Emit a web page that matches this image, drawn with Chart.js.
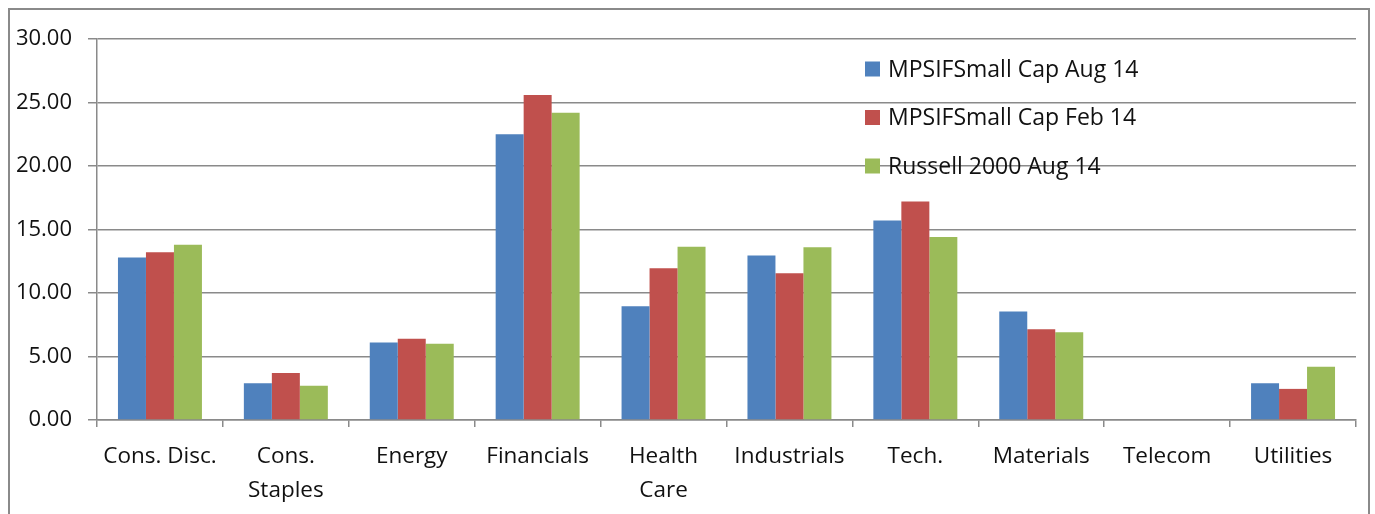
<!DOCTYPE html>
<html>
<head>
<meta charset="utf-8">
<script src="https://cdn.jsdelivr.net/npm/chart.js@4.4.0/dist/chart.umd.min.js"></script>
<style>
  body { margin: 0; overflow: hidden; background: #fff; }
  #frame { position: absolute; left: 8px; top: 8px; width: 1358px; height: 530px; border: 2px solid #8a8a8a; }
  #wrap { position: absolute; left: 0; top: 0; width: 1375px; height: 514px; }
</style>
</head>
<body>
<div id="frame"></div>
<div id="wrap"><canvas id="chart" width="1375" height="514"></canvas></div>
<script>
var categories = ["Cons. Disc.", ["Cons.", "Staples"], "Energy", "Financials", ["Health", "Care"],
                  "Industrials", "Tech.", "Materials", "Telecom", "Utilities"];
var seriesNames = ["MPSIFSmall Cap Aug 14", "MPSIFSmall Cap Feb 14", "Russell 2000 Aug 14"];
var aug14 = [12.8, 2.9, 6.1, 22.5, 8.95, 12.95, 15.7, 8.55, 0, 2.9];
var feb14 = [13.2, 3.7, 6.4, 25.6, 11.95, 11.55, 17.2, 7.15, 0, 2.45];
var russell = [13.8, 2.7, 6.0, 24.2, 13.65, 13.6, 14.4, 6.9, 0, 4.2];
var yTicks = [0, 5, 10, 15, 20, 25, 30];

var colors = ["#4f81bd", "#c0504d", "#9bbb59"];
var fontFam = "'Open Sans', 'Noto Sans', sans-serif";

// legend drawn by hand, Excel puts it inside the plot area on the right
var legendPlugin = {
    id: "boxLegend",
    afterDraw: function(chart) {
        var ctx = chart.ctx;
        ctx.save();
        ctx.font = "23px " + fontFam;
        ctx.textBaseline = "middle";
        chart.data.datasets.forEach(function(ds, i) {
            var y = 69 + i * 48.5;
            ctx.fillStyle = ds.backgroundColor;
            ctx.fillRect(865, y - 7.5, 15, 15);
            ctx.fillStyle = "#111";
            ctx.fillText(ds.label, 888, y + 1);
        });
        ctx.restore();
    }
};

var data = {
    labels: categories,
    datasets: [
        { label: seriesNames[0], data: aug14, backgroundColor: colors[0] },
        { label: seriesNames[1], data: feb14, backgroundColor: colors[1] },
        { label: seriesNames[2], data: russell, backgroundColor: colors[2] }
    ]
};

var config = {
    type: "bar",
    data: data,
    options: {
        responsive: false,
        animation: false,
        layout: { padding: { left: 0, right: 19, top: 39, bottom: 0 } },
        datasets: {
            bar: { categoryPercentage: 0.667, barPercentage: 1, borderWidth: 0 }
        },
        plugins: {
            legend: { display: false },
            tooltip: { enabled: false }
        },
        scales: {
            x: {
                grid: { offset: true, drawOnChartArea: false, drawTicks: true, tickLength: 7, color: "#8a8a8a", lineWidth: 1.5 },
                border: { color: "#8a8a8a", width: 1.5 },
                ticks: {
                    color: "#111",
                    font: { family: fontFam, size: 22.5, lineHeight: 1.5 },
                    padding: 13,
                    maxRotation: 0,
                    autoSkip: false
                },
                afterFit: function(scale) { scale.height = 94; }
            },
            y: {
                min: 0,
                max: 30,
                afterBuildTicks: function(scale) {
                    scale.ticks = yTicks.map(function(v) { return { value: v }; });
                },
                grid: { color: "#8a8a8a", lineWidth: 1.5, tickLength: 9 },
                border: { color: "#8a8a8a", width: 1.5 },
                ticks: {
                    color: "#111",
                    font: { family: fontFam, size: 22 },
                    padding: 16,
                    callback: function(v) { return v.toFixed(2); }
                },
                afterFit: function(scale) { scale.width = 97; }
            }
        }
    },
    plugins: [legendPlugin]
};

var myChart = new Chart(document.getElementById("chart"), config);
</script>
</body>
</html>
